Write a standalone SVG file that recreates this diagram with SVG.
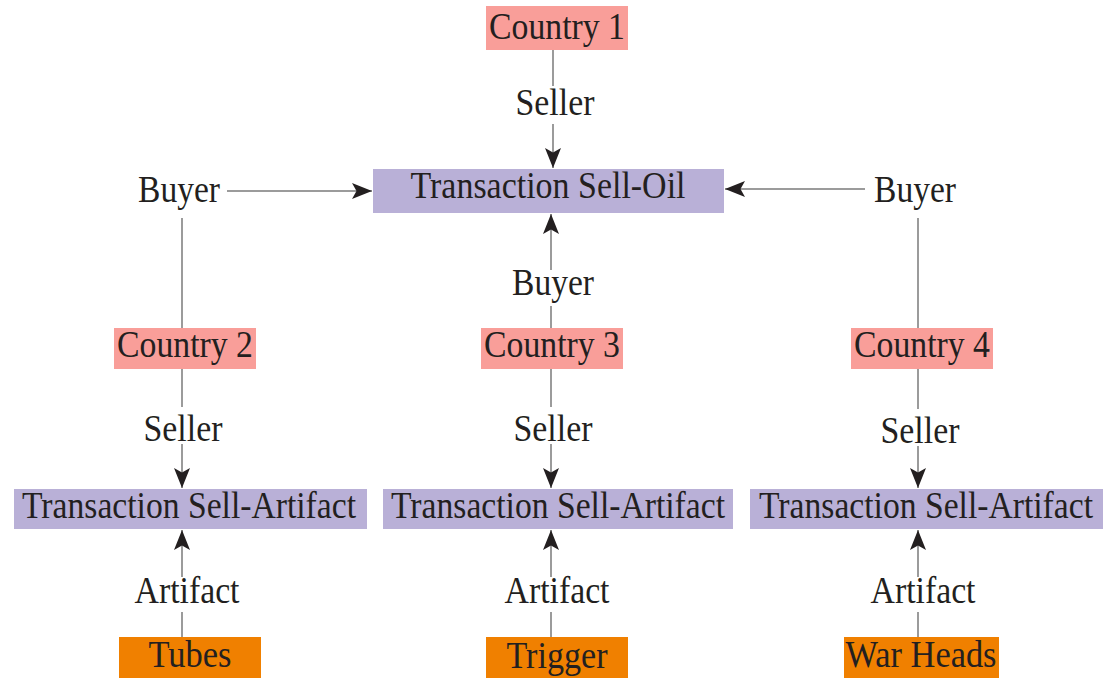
<svg xmlns="http://www.w3.org/2000/svg" width="1115" height="678" viewBox="0 0 1115 678">
  <style>
    text { font-family: "Liberation Serif", "Times New Roman", serif; font-size: 37px; fill: #231f20; text-anchor: middle; }
    .country { fill: #f99e99; }
    .trans { fill: #b9b0d7; }
    .item { fill: #f08000; }
    .edge { stroke: #7a7a7a; stroke-width: 1.5; fill: none; }
  </style>
  <defs>
    <marker id="head" viewBox="-21 -9 22 18" refX="0" refY="0" markerWidth="22" markerHeight="18" markerUnits="userSpaceOnUse" orient="auto">
      <path d="M0,0 L-20,-8 L-15.5,0 L-20,8 Z" fill="#231f20"/>
    </marker>
  </defs>

  <!-- connectors and their labels -->
  <g id="connectors">
    <!-- Country 1 -> Sell-Oil -->
    <line class="edge" x1="553" y1="50" x2="553" y2="86"/>
    <line class="edge" x1="553" y1="124" x2="553" y2="168" marker-end="url(#head)"/>
    <text x="555" y="115" textLength="79" lengthAdjust="spacingAndGlyphs">Seller</text>

    <!-- Country 2 -> Sell-Oil (buyer) -->
    <line class="edge" x1="182" y1="328" x2="182" y2="218"/>
    <line class="edge" x1="227" y1="191" x2="372" y2="191" marker-end="url(#head)"/>
    <text x="179" y="202" textLength="82" lengthAdjust="spacingAndGlyphs">Buyer</text>

    <!-- Country 4 -> Sell-Oil (buyer) -->
    <line class="edge" x1="918" y1="328" x2="918" y2="218"/>
    <line class="edge" x1="865" y1="189" x2="725" y2="189" marker-end="url(#head)"/>
    <text x="915" y="202" textLength="82" lengthAdjust="spacingAndGlyphs">Buyer</text>

    <!-- Country 3 -> Sell-Oil (buyer) -->
    <line class="edge" x1="551" y1="328" x2="551" y2="306"/>
    <line class="edge" x1="551" y1="270" x2="551" y2="214" marker-end="url(#head)"/>
    <text x="553" y="295" textLength="82" lengthAdjust="spacingAndGlyphs">Buyer</text>

    <!-- Countries 2-4 -> Sell-Artifact (seller) -->
    <line class="edge" x1="182" y1="369" x2="182" y2="407"/>
    <line class="edge" x1="182" y1="444" x2="182" y2="488" marker-end="url(#head)"/>
    <text x="183" y="441" textLength="79" lengthAdjust="spacingAndGlyphs">Seller</text>

    <line class="edge" x1="551" y1="369" x2="551" y2="407"/>
    <line class="edge" x1="551" y1="444" x2="551" y2="488" marker-end="url(#head)"/>
    <text x="553" y="441" textLength="79" lengthAdjust="spacingAndGlyphs">Seller</text>

    <line class="edge" x1="918" y1="369" x2="918" y2="409"/>
    <line class="edge" x1="918" y1="446" x2="918" y2="488" marker-end="url(#head)"/>
    <text x="920" y="443" textLength="79" lengthAdjust="spacingAndGlyphs">Seller</text>

    <!-- Items -> Sell-Artifact (artifact) -->
    <line class="edge" x1="182" y1="637" x2="182" y2="612"/>
    <line class="edge" x1="182" y1="577" x2="182" y2="530" marker-end="url(#head)"/>
    <text x="187" y="603" textLength="105" lengthAdjust="spacingAndGlyphs">Artifact</text>

    <line class="edge" x1="551" y1="637" x2="551" y2="612"/>
    <line class="edge" x1="551" y1="577" x2="551" y2="530" marker-end="url(#head)"/>
    <text x="557" y="603" textLength="105" lengthAdjust="spacingAndGlyphs">Artifact</text>

    <line class="edge" x1="918" y1="637" x2="918" y2="612"/>
    <line class="edge" x1="918" y1="577" x2="918" y2="530" marker-end="url(#head)"/>
    <text x="923" y="603" textLength="105" lengthAdjust="spacingAndGlyphs">Artifact</text>
  </g>

  <!-- nodes -->
  <g id="country1">
    <rect class="country" x="486" y="6" width="142" height="44"/>
    <text x="557" y="39" textLength="136" lengthAdjust="spacingAndGlyphs">Country 1</text>
  </g>
  <g id="sell-oil">
    <rect class="trans" x="373" y="169" width="351" height="44"/>
    <text x="548" y="198" textLength="275" lengthAdjust="spacingAndGlyphs">Transaction Sell-Oil</text>
  </g>
  <g id="country2">
    <rect class="country" x="114" y="328" width="142" height="41"/>
    <text x="185" y="357" textLength="136" lengthAdjust="spacingAndGlyphs">Country 2</text>
  </g>
  <g id="country3">
    <rect class="country" x="481" y="328" width="142" height="41"/>
    <text x="552" y="357" textLength="136" lengthAdjust="spacingAndGlyphs">Country 3</text>
  </g>
  <g id="country4">
    <rect class="country" x="851" y="328" width="142" height="41"/>
    <text x="922" y="357" textLength="136" lengthAdjust="spacingAndGlyphs">Country 4</text>
  </g>
  <g id="sell-artifact-1">
    <rect class="trans" x="14" y="489" width="353" height="40"/>
    <text x="189" y="518" textLength="334" lengthAdjust="spacingAndGlyphs">Transaction Sell-Artifact</text>
  </g>
  <g id="sell-artifact-2">
    <rect class="trans" x="383" y="489" width="350" height="40"/>
    <text x="558" y="518" textLength="334" lengthAdjust="spacingAndGlyphs">Transaction Sell-Artifact</text>
  </g>
  <g id="sell-artifact-3">
    <rect class="trans" x="750" y="489" width="353" height="40"/>
    <text x="926" y="518" textLength="334" lengthAdjust="spacingAndGlyphs">Transaction Sell-Artifact</text>
  </g>
  <g id="tubes">
    <rect class="item" x="119" y="637" width="142" height="41"/>
    <text x="190" y="667" textLength="83" lengthAdjust="spacingAndGlyphs">Tubes</text>
  </g>
  <g id="trigger">
    <rect class="item" x="486" y="637" width="142" height="41"/>
    <text x="557" y="668" textLength="101" lengthAdjust="spacingAndGlyphs">Trigger</text>
  </g>
  <g id="war-heads">
    <rect class="item" x="844" y="637" width="155" height="41"/>
    <text x="921" y="667" textLength="151" lengthAdjust="spacingAndGlyphs">War Heads</text>
  </g>
</svg>
